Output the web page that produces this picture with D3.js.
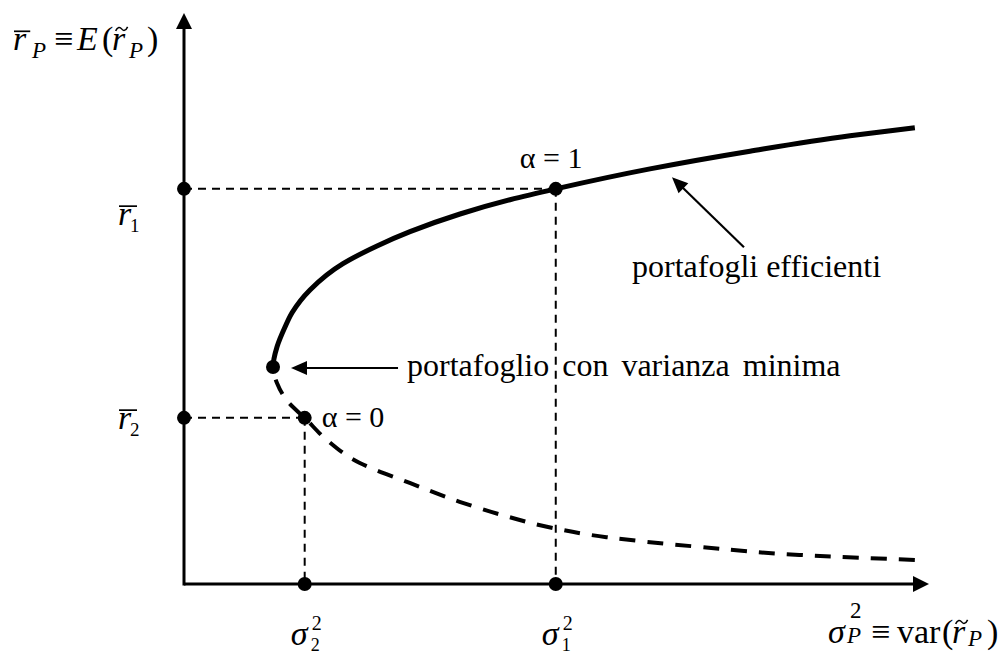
<!DOCTYPE html>
<html>
<head>
<meta charset="utf-8">
<script src="https://cdn.jsdelivr.net/npm/d3@7"></script>
<style>
  html, body { margin: 0; background: #fff; }
  svg { display: block; }
  text { font-family: "Liberation Serif", "Times New Roman", serif; fill: #000; }
</style>
</head>
<body>
<svg id="chart" width="998" height="655"></svg>
<script>
// Portfolio frontier in (variance, expected return) space.
// Efficient branch: from the minimum-variance portfolio upward.
const efficientVar = [1.195, 1.248, 1.356, 1.450, 1.691, 2.134, 2.591, 3.034, 3.705, 4.376, 4.99, 6.255, 7.597, 8.94, 9.81];
const efficientRet = [3.80, 4.15, 4.50, 4.75, 5.15, 5.61, 5.92, 6.17, 6.48, 6.73, 6.92, 7.27, 7.58, 7.85, 7.99];
// Inefficient branch: from the minimum-variance portfolio downward.
const inefficientVar = [1.195, 1.248, 1.409, 1.62, 1.92, 2.36, 3.03, 3.70, 4.37, 4.95, 5.67, 6.92, 8.26, 9.81];
const inefficientRet = [3.80, 3.52, 3.17, 2.91, 2.52, 2.12, 1.77, 1.44, 1.17, 0.98, 0.82, 0.65, 0.51, 0.42];
// The two single assets (alpha = 1 -> asset 1, alpha = 0 -> asset 2)
const assetIds = ["1", "2"];
const assetVar = [4.99, 1.62];
const assetRet = [6.92, 2.91];
const alphaLabels = ["α = 1", "α = 0"];
// Minimum-variance portfolio
const minVarPoint = [1.195, 3.80];
// Axis extents
const varDomain = [0, 10];
const retDomain = [0, 10];

const svg = d3.select("#chart");
const W = 998, H = 655;
svg.append("rect").attr("width", W).attr("height", H).attr("fill", "#fff");

const x = d3.scaleLinear().domain(varDomain).range([184, 929]);
const y = d3.scaleLinear().domain(retDomain).range([584, 13]);

const MATH = 34, SUB = 23, TXT = 32;

// ---- axes with arrowheads ----
const axes = svg.append("g").attr("stroke", "#000").attr("fill", "#000");
axes.append("line")
  .attr("x1", x(0)).attr("y1", y(0))
  .attr("x2", x(varDomain[1]) - 14).attr("y2", y(0))
  .attr("stroke-width", 3);
axes.append("path")
  .attr("stroke", "none")
  .attr("d", `M${x(varDomain[1])},${y(0)} l-16,-8 l0,16 Z`);
axes.append("line")
  .attr("x1", x(0)).attr("y1", y(0) + 1.5)
  .attr("x2", x(0)).attr("y2", y(retDomain[1]) + 14)
  .attr("stroke-width", 3);
axes.append("path")
  .attr("stroke", "none")
  .attr("d", `M${x(0)},${y(retDomain[1])} l-8,16 l16,0 Z`);

// ---- dashed guides from each asset to the axes ----
const guides = svg.append("g")
  .attr("stroke", "#000").attr("stroke-width", 2)
  .attr("stroke-dasharray", "8,6").attr("fill", "none");
assetIds.forEach((id, i) => {
  guides.append("line")
    .attr("x1", x(0)).attr("y1", y(assetRet[i]))
    .attr("x2", x(assetVar[i])).attr("y2", y(assetRet[i]));
  guides.append("line")
    .attr("x1", x(assetVar[i])).attr("y1", y(assetRet[i]))
    .attr("x2", x(assetVar[i])).attr("y2", y(0));
});

// ---- frontier: one smooth curve (return is monotone along it), split at the vertex ----
const frontier = inefficientVar.map((v, i) => [v, inefficientRet[i]]).reverse()
  .concat(efficientVar.slice(1).map((v, i) => [v, efficientRet[i + 1]]));
const line = d3.line()
  .x(d => x(d[0])).y(d => y(d[1]))
  .curve(d3.curveMonotoneY);
const vy = y(minVarPoint[1]);

const defs = svg.append("defs");
defs.append("clipPath").attr("id", "clip-upper")
  .append("rect").attr("x", 0).attr("y", 0).attr("width", W).attr("height", vy);
defs.append("clipPath").attr("id", "clip-lower")
  .append("rect").attr("x", 0).attr("y", vy).attr("width", W).attr("height", H - vy);

svg.append("path")
  .datum(frontier)
  .attr("d", line)
  .attr("clip-path", "url(#clip-lower)")
  .attr("fill", "none").attr("stroke", "#000")
  .attr("stroke-width", 4).attr("stroke-dasharray", "16,12");

svg.append("path")
  .datum(frontier)
  .attr("d", line)
  .attr("clip-path", "url(#clip-upper)")
  .attr("fill", "none").attr("stroke", "#000")
  .attr("stroke-width", 5);

// ---- dots ----
const dots = [];
assetIds.forEach((id, i) => {
  dots.push([assetVar[i], assetRet[i]]);
  dots.push([0, assetRet[i]]);
  dots.push([assetVar[i], 0]);
});
dots.push(minVarPoint);
svg.append("g").selectAll("circle").data(dots).join("circle")
  .attr("cx", d => x(d[0])).attr("cy", d => y(d[1]))
  .attr("r", 7).attr("fill", "#000");

// ---- math text: one <text>, each part placed by offset; accents drawn as paths ----
function mathText(px, py, parts) {
  const t = svg.append("text").attr("font-size", MATH);
  let idx = 0;
  const accents = [];
  parts.forEach(p => {
    const ts = t.append("tspan")
      .attr("x", px + (p.dx || 0)).attr("y", py + (p.dy || 0))
      .text(p.t);
    if (p.it) ts.attr("font-style", "italic");
    if (p.size) ts.attr("font-size", p.size);
    if (p.accent) accents.push({ idx, kind: p.accent, barLen: p.barLen, base: py + (p.dy || 0), fs: p.size || MATH });
    idx += p.t.length;
  });
  const node = t.node();
  accents.forEach(a => {
    const e = node.getExtentOfChar(a.idx);
    if (a.kind === "bar") {
      const yy = a.base - 0.55 * a.fs;
      svg.append("line")
        .attr("x1", e.x + 1).attr("x2", e.x + (a.barLen || e.width + 4))
        .attr("y1", yy).attr("y2", yy)
        .attr("stroke", "#000").attr("stroke-width", 1.7);
    } else {
      const cx = e.x + e.width / 2 + 3, cy = a.base - 0.62 * a.fs;
      svg.append("path")
        .attr("d", `M${cx - 6},${cy + 2} C${cx - 4},${cy - 2.5} ${cx - 1.5},${cy - 2} ${cx},${cy} S${cx + 4},${cy + 2.5} ${cx + 6},${cy - 2}`)
        .attr("fill", "none").attr("stroke", "#000").attr("stroke-width", 1.5);
    }
  });
  return t;
}

// ---- axis titles ----
mathText(13, 50, [
  { t: "r", it: true, accent: "bar" },
  { t: "P", it: true, size: SUB, dx: 19, dy: 8 },
  { t: "≡", dx: 41 },
  { t: "E", it: true, dx: 64 },
  { t: "(", dx: 89 },
  { t: "r", it: true, accent: "tilde", dx: 99 },
  { t: "P", it: true, size: SUB, dx: 116, dy: 8 },
  { t: ")", dx: 134 }
]);

mathText(828, 643, [
  { t: "σ", it: true },
  { t: "2", size: SUB, dx: 22, dy: -25 },
  { t: "P", it: true, size: SUB, dx: 19, dy: 0 },
  { t: "≡", dx: 43 },
  { t: "var", dx: 69 },
  { t: "(", dx: 114 },
  { t: "r", it: true, accent: "tilde", dx: 124 },
  { t: "P", it: true, size: SUB, dx: 140, dy: 3 },
  { t: ")", dx: 159 }
]);

// ---- tick labels for the two assets ----
const retLabelDy = [36, 11];
assetIds.forEach((id, i) => {
  mathText(x(0) - 66, y(assetRet[i]) + retLabelDy[i], [
    { t: "r", it: true, accent: "bar", barLen: 19 },
    { t: id, size: 19, dx: 12, dy: 7 }
  ]);
  mathText(x(assetVar[i]) - 14, 645, [
    { t: "σ", it: true },
    { t: "2", size: 20, dx: 21, dy: -15 },
    { t: id, size: 18, dx: 20, dy: 6 }
  ]);
});

// ---- alpha labels ----
const alphaOffset = [[-36, -21], [17, 9]];
alphaLabels.forEach((lab, i) => {
  svg.append("text")
    .attr("x", x(assetVar[i]) + alphaOffset[i][0])
    .attr("y", y(assetRet[i]) + alphaOffset[i][1])
    .attr("font-size", 30).text(lab);
});

// ---- annotations ----
function arrow(x1, y1, x2, y2) {
  const ang = Math.atan2(y2 - y1, x2 - x1);
  const L = 16, hw = 7;
  const bx = x2 - L * Math.cos(ang), by = y2 - L * Math.sin(ang);
  svg.append("line")
    .attr("x1", x1).attr("y1", y1)
    .attr("x2", bx + 2 * Math.cos(ang)).attr("y2", by + 2 * Math.sin(ang))
    .attr("stroke", "#000").attr("stroke-width", 2.2);
  svg.append("path").attr("fill", "#000").attr("d",
    `M${x2},${y2} L${bx - hw * Math.sin(ang)},${by + hw * Math.cos(ang)} L${bx + hw * Math.sin(ang)},${by - hw * Math.cos(ang)} Z`);
}

// minimum-variance portfolio
const mvx = x(minVarPoint[0]), mvy = y(minVarPoint[1]);
arrow(mvx + 125, mvy + 1, mvx + 18, mvy + 1);
svg.append("text").attr("x", mvx + 134).attr("y", mvy + 9)
  .attr("font-size", TXT).attr("word-spacing", 5)
  .text("portafoglio con varianza minima");

// efficient portfolios: arrow pointing at the upper branch
const ex = x(6.55), ey = y(7.37);
arrow(ex + 72, ey + 84, ex, ey + 14);
svg.append("text").attr("x", ex - 40).attr("y", ey + 114)
  .attr("font-size", TXT).text("portafogli efficienti");
</script>
</body>
</html>
